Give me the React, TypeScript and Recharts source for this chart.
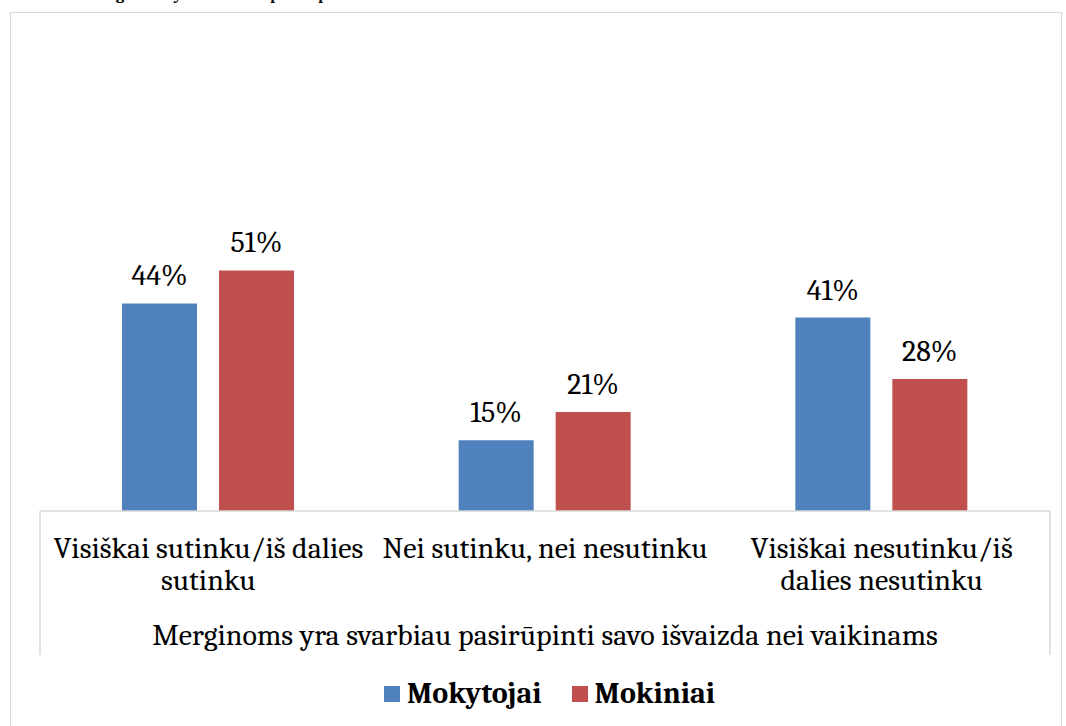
import React from "react";
import { BarChart, Bar, XAxis, YAxis, Legend, LabelList, Label } from "recharts";

const categories = [
  "Visiškai sutinku/iš dalies\nsutinku",
  "Nei sutinku, nei nesutinku",
  "Visiškai nesutinku/iš\ndalies nesutinku",
];
const teachers = [44, 15, 41];
const students = [51, 21, 28];
const seriesNames = ["Mokytojai", "Mokiniai"];
const groupLabel = "Merginoms yra svarbiau pasirūpinti savo išvaizda nei vaikinams";
const titleText = "Merginoms yra svarbiau pasirūpinti savo išvaizda nei vaikinams";

const data = categories.map((c, i) => ({
  category: c,
  teachers: teachers[i],
  students: students[i],
}));

const W = 1066;
const H = 726;
const MARGIN = { top: 228, right: 16, bottom: 71, left: 40 };
const AXIS_H = 144;
const PLOT_BOTTOM = H - MARGIN.bottom - AXIS_H;
const PLOT_W = W - MARGIN.left - MARGIN.right;
const FONT = 'Caladea, Cambria, "Liberation Serif", serif';
const GRID = "#d9d9d9";
const BLUE = "#4f81bd";
const RED = "#c0504d";

function CategoryTick({ x, payload, index }: any) {
  const lines = String(payload.value).split("\n");
  const half = payload.offset || PLOT_W / categories.length / 2;
  return (
    <g>
      {index === 0 && (
        <line x1={x - half} x2={x - half} y1={PLOT_BOTTOM} y2={PLOT_BOTTOM + AXIS_H} stroke={GRID} strokeWidth={1.5} />
      )}
      {index === categories.length - 1 && (
        <line x1={x + half} x2={x + half} y1={PLOT_BOTTOM} y2={PLOT_BOTTOM + AXIS_H} stroke={GRID} strokeWidth={1.5} />
      )}
      <text x={x} y={PLOT_BOTTOM + 47} textAnchor="middle" fontSize={30} fill="#000" fontFamily={FONT}>
        {lines.map((l, i) => (
          <tspan key={i} x={x} dy={i === 0 ? 0 : 32}>
            {l}
          </tspan>
        ))}
      </text>
    </g>
  );
}

function LegendContent({ payload }: any) {
  const items = seriesNames
    .map((n) => (payload || []).find((p: any) => p.value === n))
    .filter(Boolean);
  return (
    <div style={{ display: "flex", justifyContent: "center", paddingLeft: 33, fontFamily: FONT }}>
      {items.map((p: any, i: number) => (
        <div key={i} style={{ display: "flex", alignItems: "center", marginLeft: i === 0 ? 0 : 30 }}>
          <span style={{ width: 16, height: 16, background: p.color, display: "inline-block", marginRight: 7 }} />
          <span style={{ fontSize: 30, fontWeight: "bold", color: "#000", lineHeight: "34px" }}>{p.value}</span>
        </div>
      ))}
    </div>
  );
}

export default function App() {
  return (
    <div style={{ position: "absolute", left: 0, top: 0, width: W, height: H, background: "#fff", overflow: "hidden" }}>
      <div
        style={{
          position: "absolute",
          left: 10,
          top: 12,
          width: 1052,
          height: 800,
          border: `1.5px solid ${GRID}`,
          boxSizing: "border-box",
        }}
      />
      {/* title sits above the visible area; only its descenders show */}
      <div
        style={{
          position: "absolute",
          left: 86,
          top: -14,
          fontFamily: FONT,
          fontWeight: "bold",
          fontSize: 16.5,
          lineHeight: "17px",
          whiteSpace: "nowrap",
          color: "#000",
        }}
      >
        {titleText}
      </div>
      <div style={{ position: "absolute", left: 0, top: 0 }}>
        <BarChart width={W} height={H} data={data} margin={MARGIN} barGap={22} barSize={75}>
          <YAxis hide domain={[0, 60]} />
          <XAxis
            dataKey="category"
            height={AXIS_H}
            axisLine={{ stroke: GRID, strokeWidth: 1.5 }}
            tickLine={false}
            interval={0}
            tick={<CategoryTick />}
          >
            <Label
              value={groupLabel}
              position="insideBottom"
              offset={10}
              style={{ fontSize: 30, fontFamily: FONT, fill: "#000" }}
            />
          </XAxis>
          <Legend
            verticalAlign="middle"
            align="center"
            layout="horizontal"
            content={<LegendContent />}
            wrapperStyle={{ top: 677, left: 0, width: W }}
          />
          <Bar dataKey="teachers" name={seriesNames[0]} fill={BLUE} isAnimationActive={false}>
            <LabelList
              dataKey="teachers"
              position="top"
              offset={18}
              formatter={(v: any) => `${v}%`}
              style={{ fontSize: 30, fontFamily: FONT, fill: "#000" }}
            />
          </Bar>
          <Bar dataKey="students" name={seriesNames[1]} fill={RED} isAnimationActive={false}>
            <LabelList
              dataKey="students"
              position="top"
              offset={18}
              formatter={(v: any) => `${v}%`}
              style={{ fontSize: 30, fontFamily: FONT, fill: "#000" }}
            />
          </Bar>
        </BarChart>
      </div>
    </div>
  );
}
